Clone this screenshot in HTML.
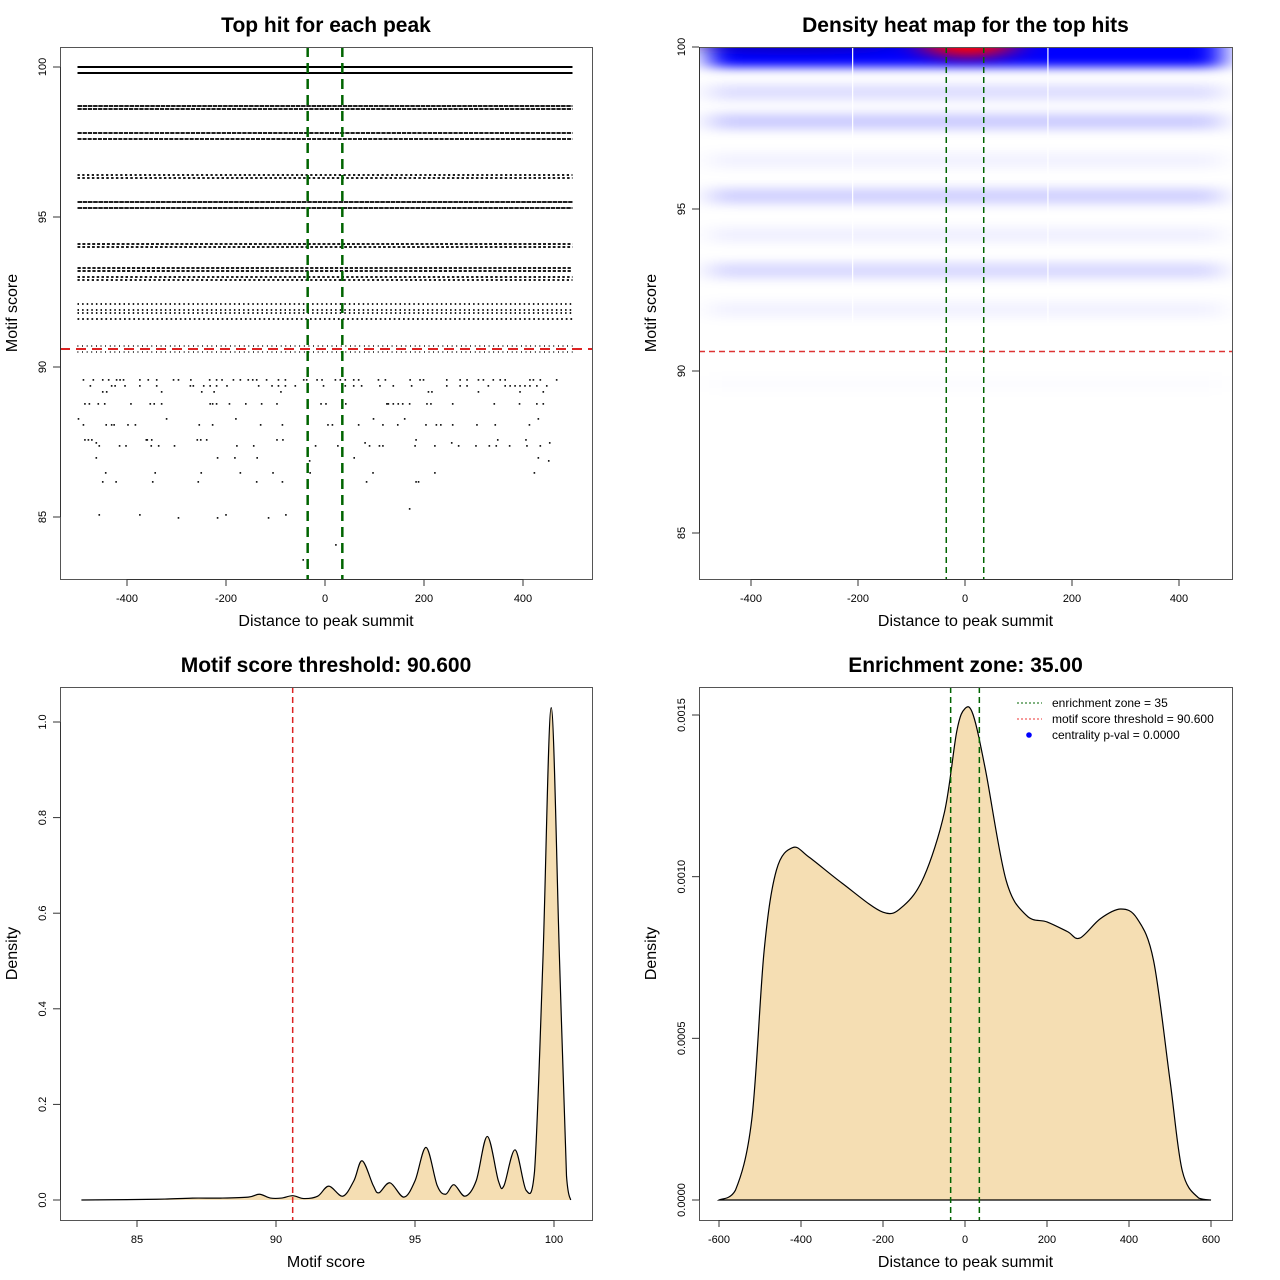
<!DOCTYPE html>
<html><head><meta charset="utf-8">
<style>
html,body{margin:0;padding:0;background:#fff;}
svg{display:block;font-family:"Liberation Sans",Arial,sans-serif;}
</style></head>
<body>
<svg id="c" width="1280" height="1280" viewBox="0 0 1280 1280" xmlns="http://www.w3.org/2000/svg">
<defs>
<filter id="blurB" x="-20%" y="-200%" width="140%" height="500%"><feGaussianBlur stdDeviation="14 5"/></filter>
<filter id="blurR" x="-50%" y="-100%" width="200%" height="300%"><feGaussianBlur stdDeviation="18 6"/></filter>
<clipPath id="clip2"><rect x="700" y="47" width="532" height="532"/></clipPath>
</defs>
</svg>
<script>
// ---------- DATA ----------
const denseLevels = [100, 99.8, 98.7, 98.6, 97.8, 97.6, 96.4, 96.3, 95.5, 95.3, 94.1, 94.0, 93.3, 93.2, 93.0, 92.9, 92.1, 91.9, 91.8, 91.6, 90.7, 90.5];
const denseFill = [1, 1, 0.9, 0.85, 0.85, 0.8, 0.45, 0.5, 0.92, 0.9, 0.6, 0.55, 0.65, 0.65, 0.5, 0.45, 0.3, 0.3, 0.3, 0.35, 0.12, 0.12];
const sparseScores = [89.57, 89.37, 89.17, 88.77, 88.27, 88.07, 87.57, 87.47, 87.37, 86.97, 86.87, 86.47, 86.17, 85.27, 85.07, 84.97, 84.07, 83.57];
const sparseDists = [
 [-488,-468,-449,-437,-421,-414,-407,-374,-357,-340,-306,-296,-271,-233,-219,-208,-185,-171,-155,-146,-138,-118,-94,-80,-43,-37,-16,-6,21,31,41,58,68,108,122,172,192,199,246,273,287,310,320,340,354,364,414,421,435,468],
 [-474,-431,-424,-404,-374,-340,-272,-266,-245,-232,-219,-198,-134,-107,-94,-80,-60,-3,41,58,74,111,138,175,246,273,287,330,364,374,384,394,404,414,428,448],
 [-449,-441,-330,-249,-224,-89,209,216,310,394,441],
 [-485,-476,-458,-445,-392,-353,-345,-330,-232,-227,-219,-193,-160,-128,-97,-8,2,42,125,128,138,148,157,171,206,214,258,342,393,428,441],
 [-498,-320,-180,98,161,431],
 [-488,-442,-431,-426,-398,-383,-254,-227,-130,-86,6,15,68,117,147,204,225,234,258,307,344,413],
 [-485,-478,-471,-361,-359,-350,-258,-251,-239,-97,-85,-35,184,349,406],
 [-462,81,256,454],
 [-456,-415,-402,-351,-336,-304,-178,-144,-19,26,90,110,117,182,222,270,305,332,346,373,408,435],
 [-462,-217,-182,-137,59,431],
 [-31,452],
 [-443,-343,-250,-171,-105,-30,97,222,423],
 [-449,-422,-348,-256,-138,-86,84,184,189],
 [171],
 [-456,-374,-200,-79],
 [-296,-217,-114],
 [22],
 [-44]
];
const threshold = 90.6;
const zone = 35;
const heatLevels = [99.9, 98.6, 97.7, 96.5, 95.4, 94.2, 93.1, 91.9, 89.6];
const heatIntensity = [1.0, 0.13, 0.2, 0.05, 0.18, 0.06, 0.15, 0.05, 0.012];
const scoreX = [83,85,86,87,88,89,89.4,89.8,90.2,90.6,91.0,91.5,91.9,92.4,92.8,93.1,93.5,93.7,94.1,94.6,95.0,95.4,95.8,96.1,96.4,96.8,97.2,97.6,98.0,98.2,98.6,99.0,99.3,99.6,99.9,100.2,100.45,100.6];
const scoreD = [0,0.001,0.002,0.004,0.004,0.006,0.012,0.004,0.004,0.009,0.003,0.008,0.029,0.008,0.04,0.082,0.03,0.015,0.036,0.006,0.04,0.11,0.03,0.012,0.032,0.008,0.04,0.133,0.04,0.03,0.105,0.02,0.06,0.5,1.03,0.5,0.05,0];
const distX = [-600,-560,-520,-490,-460,-420,-380,-300,-200,-150,-100,-50,-20,0,20,50,100,150,200,250,280,330,380,420,460,500,530,570,600];
const distD = [0,0.00003,0.00025,0.00077,0.00102,0.00109,0.00106,0.00098,0.00089,0.00091,0.001,0.0012,0.00145,0.00152,0.0015,0.00133,0.00099,0.00088,0.00086,0.00083,0.00081,0.00087,0.0009,0.00087,0.00074,0.00037,0.00009,0.000006,0];
const p1xTicks = [-400,-200,0,200,400];
const p1yTicks = [85,90,95,100];
const p3xTicks = [85,90,95,100];
const p3yTicks = [0,0.2,0.4,0.6,0.8,1.0];
const p3yLabels = ["0.0","0.2","0.4","0.6","0.8","1.0"];
const p4xTicks = [-600,-400,-200,0,200,400,600];
const p4yTicks = [0,0.0005,0.001,0.0015];
const p4yLabels = ["0.0000","0.0005","0.0010","0.0015"];

// ---------- HELPERS ----------
const svg = document.getElementById('c');
const NS = 'http://www.w3.org/2000/svg';
function mk(tag, attrs, parent){
  const e = document.createElementNS(NS, tag);
  for (const k in attrs) e.setAttribute(k, attrs[k]);
  (parent||svg).appendChild(e);
  return e;
}
function lin(d0,d1,r0,r1){ return v => r0 + (v-d0)*(r1-r0)/(d1-d0); }
function smoothPath(xs, ys, base){
  let d = 'M' + xs[0] + ',' + ys[0];
  for (let i=0;i<xs.length-1;i++){
    const x0=xs[Math.max(0,i-1)], y0=ys[Math.max(0,i-1)];
    const x1=xs[i], y1=ys[i], x2=xs[i+1], y2=ys[i+1];
    const x3=xs[Math.min(xs.length-1,i+2)], y3=ys[Math.min(xs.length-1,i+2)];
    let c1x=x1+(x2-x0)/6, c1y=y1+(y2-y0)/6, c2x=x2-(x3-x1)/6, c2y=y2-(y3-y1)/6;
    c1y=Math.min(c1y,base); c2y=Math.min(c2y,base);
    d += ' C' + c1x.toFixed(2)+','+c1y.toFixed(2)+' '+c2x.toFixed(2)+','+c2y.toFixed(2)+' '+x2.toFixed(2)+','+y2.toFixed(2);
  }
  return d;
}
function frame(name, x, y, w, h, title, xt, yt){
  const g = mk('g', {});
  
  
  const t = mk('text', {x:x+w/2, y:y-15, 'text-anchor':'middle', 'font-size':'21', 'font-weight':'bold'}, g);
  t.textContent = title;
  
  
  const xl = mk('text', {x:x+w/2, y:y+h+47, 'text-anchor':'middle', 'font-size':'16'}, g);
  xl.textContent = xt;
  
  
  const yl = mk('text', {x:0, y:0, 'text-anchor':'middle', 'font-size':'16', transform:'translate('+(x-43)+','+(y+h/2)+') rotate(-90)'}, g);
  yl.textContent = yt;
  
  
  return g;
}
function box(g, x, y, w, h){
  const r = mk('rect', {x:x+0.5, y:y+0.5, width:w, height:h, fill:'none', stroke:'#555', 'stroke-width':'1'}, g);
  
  
}
function xAxis(g, sx, ticks, labels, yb){
  const ax = mk('g', {}, g);
  
  
  mk('line', {x1:sx(ticks[0]), x2:sx(ticks[ticks.length-1]), y1:yb+0.5, y2:yb+0.5, stroke:'#333'}, ax);
  ticks.forEach((v,i)=>{
    mk('line', {x1:sx(v), x2:sx(v), y1:yb, y2:yb+7, stroke:'#333'}, ax);
    const t = mk('text', {x:sx(v), y:yb+23, 'text-anchor':'middle', 'font-size':'11'}, ax);
    t.textContent = labels ? labels[i] : String(v);
    
    
  });
}
function yAxis(g, sy, ticks, labels, xb){
  const ax = mk('g', {}, g);
  
  
  mk('line', {x1:xb+0.5, x2:xb+0.5, y1:sy(ticks[0]), y2:sy(ticks[ticks.length-1]), stroke:'#333'}, ax);
  ticks.forEach((v,i)=>{
    mk('line', {x1:xb, x2:xb-7, y1:sy(v), y2:sy(v), stroke:'#333'}, ax);
    const t = mk('text', {x:0, y:0, 'text-anchor':'middle', 'font-size':'11', transform:'translate('+(xb-14)+','+sy(v)+') rotate(-90)'}, ax);
    t.textContent = labels ? labels[i] : String(v);
    
    
  });
}

// ---------- PANEL 1 ----------
(function(){
  const X=60,Y=47,W=532,H=532;
  const sx = lin(0,400,325,523), sy = lin(100,90,67,367);
  const g = frame('panel-top-hits', X,Y,W,H,'Top hit for each peak','Distance to peak summit','Motif score');
  denseLevels.forEach((lv,i)=>{
    const f = denseFill[i];
    const on = f>=0.99 ? 0 : Math.max(0.8, f*5), off = f>=0.99 ? 0 : (1-f)*4+0.3;
    const l = mk('line', {x1:sx(-500), x2:sx(500), y1:sy(lv), y2:sy(lv), stroke:'#000', 'stroke-width': f>=0.99?2:1.8, 'stroke-dasharray': f>=0.99?'none':(on.toFixed(2)+' '+off.toFixed(2))}, g);
    
    
  });
  sparseScores.forEach((s,i)=>{
    sparseDists[i].forEach(d=>{
      const p = mk('rect', {x:sx(d)-0.8, y:sy(s)-0.8, width:1.6, height:1.6, fill:'#000'}, g);
      
      
    });
  });
  const r = mk('line', {x1:X, x2:X+W, y1:sy(threshold), y2:sy(threshold), stroke:'#dd2222', 'stroke-width':2, 'stroke-dasharray':'10 6'}, g);
  
  
  [-zone, zone].forEach(z=>{
    const l = mk('line', {x1:sx(z), x2:sx(z), y1:Y, y2:Y+H, stroke:'#006400', 'stroke-width':2.5, 'stroke-dasharray':'10 6'}, g);
    
    
  });
  box(g,X,Y,W,H);
  xAxis(g, sx, p1xTicks, null, Y+H);
  yAxis(g, sy, p1yTicks, null, X);
})();

// ---------- PANEL 2 ----------
(function(){
  const X=699,Y=47,W=533,H=532;
  const sx = lin(0,400,965,1179), sy = lin(100,90,47,371);
  const g = frame('panel-density-heatmap', X,Y,W,H,'Density heat map for the top hits','Distance to peak summit','Motif score');
  const hm = mk('g', {'clip-path':'url(#clip2)'}, g);
  
  
  heatLevels.forEach((lv,i)=>{
    const a = heatIntensity[i];
    const thick = i===0 ? 34 : 16;
    const b = mk('rect', {x:X+10, y:sy(lv)-thick/2, width:W-20, height:thick, fill:'#0000ff', 'fill-opacity':a, filter:'url(#blurB)'}, hm);
    
    
  });
  const dk = mk('ellipse', {cx:sx(-330), cy:sy(100.1), rx:110, ry:7, fill:'#200080', 'fill-opacity':0.6, filter:'url(#blurR)'}, hm);
  
  
  const red = mk('ellipse', {cx:sx(5), cy:sy(100.05), rx:45, ry:12, fill:'#ff0000', filter:'url(#blurR)'}, hm);
  
  
  [-210, 155].forEach(v=>{
    mk('line', {x1:sx(v), x2:sx(v), y1:Y, y2:sy(91.5), stroke:'#fff', 'stroke-width':1.2}, hm);
  });
  const r = mk('line', {x1:X, x2:X+W, y1:sy(threshold), y2:sy(threshold), stroke:'#dd3333', 'stroke-width':1.5, 'stroke-dasharray':'6 4'}, g);
  
  
  [-zone, zone].forEach(z=>{
    const l = mk('line', {x1:sx(z), x2:sx(z), y1:Y, y2:Y+H, stroke:'#006400', 'stroke-width':1.5, 'stroke-dasharray':'6 4'}, g);
    
    
  });
  box(g,X,Y,W,H);
  xAxis(g, sx, p1xTicks, null, Y+H);
  yAxis(g, sy, p1yTicks, null, X);
})();

// ---------- PANEL 3 ----------
(function(){
  const X=60,Y=687,W=532,H=533;
  const sx = lin(85,100,137,554), sy = lin(0,1,1200,722);
  const base = sy(0);
  const g = frame('panel-score-density', X,Y,W,H,'Motif score threshold: 90.600','Motif score','Density');
  const xs = scoreX.map(sx), ys = scoreD.map(sy);
  const d = smoothPath(xs, ys, base);
  const a = mk('path', {d: d+' L'+xs[xs.length-1]+','+base+' L'+xs[0]+','+base+' Z', fill:'#f5deb3', stroke:'none'}, g);
  
  
  const l = mk('path', {d:d, fill:'none', stroke:'#000', 'stroke-width':1.2}, g);
  
  
  const r = mk('line', {x1:sx(threshold), x2:sx(threshold), y1:Y, y2:Y+H, stroke:'#dd2222', 'stroke-width':1.5, 'stroke-dasharray':'6 4'}, g);
  
  
  box(g,X,Y,W,H);
  xAxis(g, sx, p3xTicks, null, Y+H);
  yAxis(g, sy, p3yTicks, p3yLabels, X);
})();

// ---------- PANEL 4 ----------
(function(){
  const X=699,Y=687,W=533,H=533;
  const sx = lin(0,600,965,1211), sy = lin(0,0.0015,1200,715);
  const base = sy(0);
  const g = frame('panel-enrichment-zone', X,Y,W,H,'Enrichment zone: 35.00','Distance to peak summit','Density');
  const xs = distX.map(sx), ys = distD.map(sy);
  const d = smoothPath(xs, ys, base);
  const a = mk('path', {d: d+' Z', fill:'#f5deb3', stroke:'none'}, g);
  
  
  const l = mk('path', {d: d+' Z', fill:'none', stroke:'#000', 'stroke-width':1.2}, g);
  
  
  [-zone, zone].forEach(z=>{
    const v = mk('line', {x1:sx(z), x2:sx(z), y1:Y, y2:Y+H, stroke:'#006400', 'stroke-width':1.5, 'stroke-dasharray':'6 4'}, g);
    
    
  });
  const lg = mk('g', {}, g);
  
  
  const e1 = mk('line', {x1:1017, x2:1042, y1:703, y2:703, stroke:'#006400', 'stroke-dasharray':'2 2'}, lg);
  
  
  const e2 = mk('line', {x1:1017, x2:1042, y1:719, y2:719, stroke:'#ee3333', 'stroke-dasharray':'2 2'}, lg);
  
  
  const e3 = mk('circle', {cx:1029, cy:735, r:2.8, fill:'#0000ff'}, lg);
  
  
  const labs = ['enrichment zone = 35','motif score threshold = 90.600','centrality p-val = 0.0000'];
  labs.forEach((s,i)=>{
    const t = mk('text', {x:1052, y:707+i*16, 'font-size':'12'}, lg);
    t.textContent = s;
    
    
  });
  box(g,X,Y,W,H);
  xAxis(g, sx, p4xTicks, null, Y+H);
  yAxis(g, sy, p4yTicks, p4yLabels, X);
})();
</script>
</body></html>
